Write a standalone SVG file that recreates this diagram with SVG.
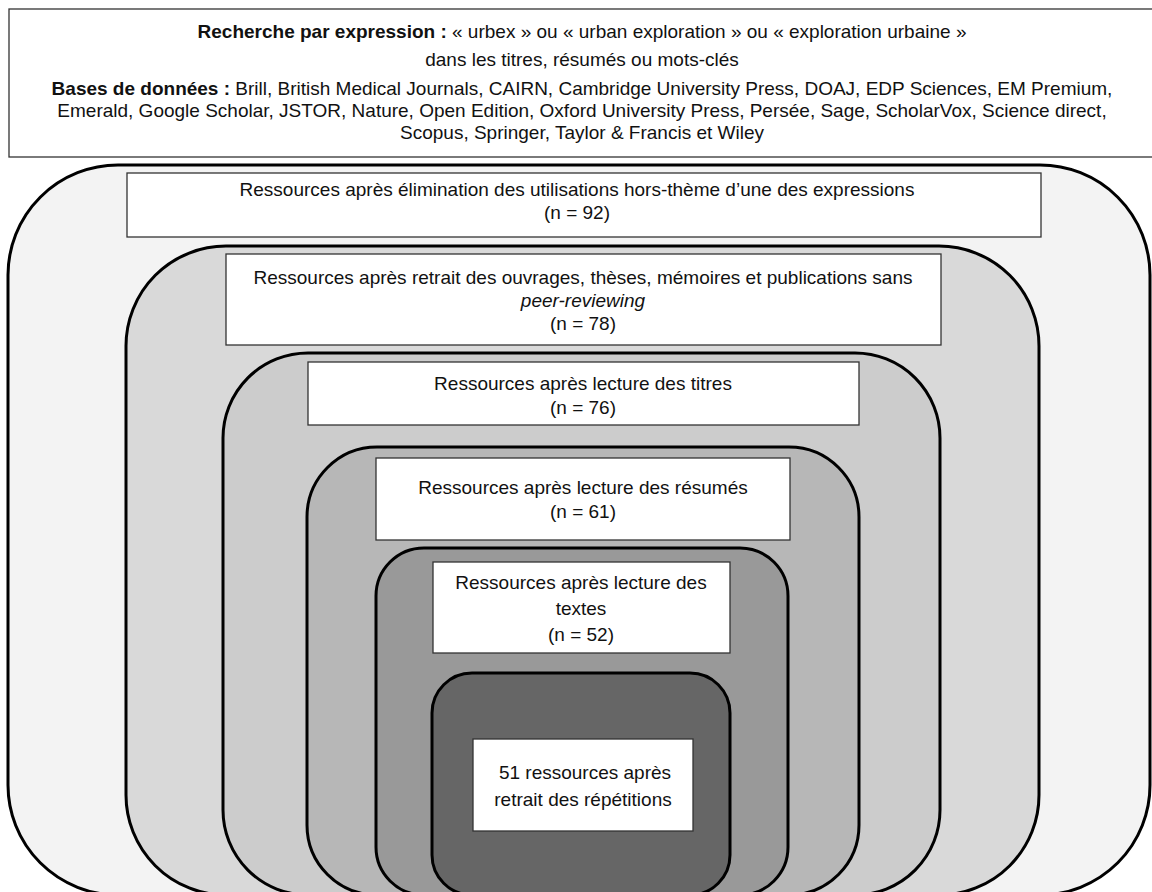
<svg xmlns="http://www.w3.org/2000/svg" width="1152" height="892" viewBox="0 0 1152 892">
<style>
.lvl{stroke:#000;stroke-width:3}
.lbl{fill:#fff;stroke:#333;stroke-width:1.3}
text{font-family:"Liberation Sans",Arial,sans-serif;font-size:19px;fill:#111;text-anchor:middle}
.b{font-weight:bold}
.i{font-style:italic}
</style>
<rect width="1152" height="892" fill="#fff"/>
<g id="header">
<rect class="lbl" x="9" y="9" width="1150" height="148"/>
<text x="582" y="38"><tspan class="b">Recherche par expression :</tspan> « urbex » ou « urban exploration » ou « exploration urbaine »</text>
<text x="582" y="66">dans les titres, résumés ou mots-clés</text>
<text x="582" y="95"><tspan class="b">Bases de données :</tspan> Brill, British Medical Journals, CAIRN, Cambridge University Press, DOAJ, EDP Sciences, EM Premium,</text>
<text x="582" y="117">Emerald, Google Scholar, JSTOR, Nature, Open Edition, Oxford University Press, Persée, Sage, ScholarVox, Science direct,</text>
<text x="582" y="139">Scopus, Springer, Taylor &amp; Francis et Wiley</text>
</g>
<g id="level1">
<rect class="lvl" x="8" y="165" width="1142" height="730" rx="110" fill="#f3f3f3"/>
<rect class="lbl" x="127" y="173" width="914" height="64"/>
<text x="577" y="196">Ressources après élimination des utilisations hors-thème d’une des expressions</text>
<text x="577" y="219">(n = 92)</text>
</g>
<g id="level2">
<rect class="lvl" x="126" y="246" width="913" height="649" rx="100" fill="#d9d9d9"/>
<rect class="lbl" x="226" y="254" width="715" height="91"/>
<text x="583" y="284">Ressources après retrait des ouvrages, thèses, mémoires et publications sans</text>
<text x="583" y="307" class="i">peer-reviewing</text>
<text x="583" y="330">(n = 78)</text>
</g>
<g id="level3">
<rect class="lvl" x="223" y="353" width="717" height="542" rx="85" fill="#cccccc"/>
<rect class="lbl" x="308" y="362" width="551" height="63"/>
<text x="583" y="390">Ressources après lecture des titres</text>
<text x="583" y="414">(n = 76)</text>
</g>
<g id="level4">
<rect class="lvl" x="307" y="447" width="552" height="448" rx="70" fill="#b7b7b7"/>
<rect class="lbl" x="376" y="458" width="414" height="82"/>
<text x="583" y="494">Ressources après lecture des résumés</text>
<text x="583" y="518">(n = 61)</text>
</g>
<g id="level5">
<rect class="lvl" x="376" y="548" width="412" height="347" rx="48" fill="#999999"/>
<rect class="lbl" x="433" y="562" width="297" height="91"/>
<text x="581" y="589">Ressources après lecture des</text>
<text x="581" y="615">textes</text>
<text x="581" y="641">(n = 52)</text>
</g>
<g id="level6">
<rect class="lvl" x="432" y="673" width="298" height="222" rx="40" fill="#666666"/>
<rect class="lbl" x="473" y="739" width="220" height="92"/>
<text x="585" y="779">51 ressources après</text>
<text x="583" y="806">retrait des répétitions</text>
</g>
<g id="connectors"></g>
</svg>
